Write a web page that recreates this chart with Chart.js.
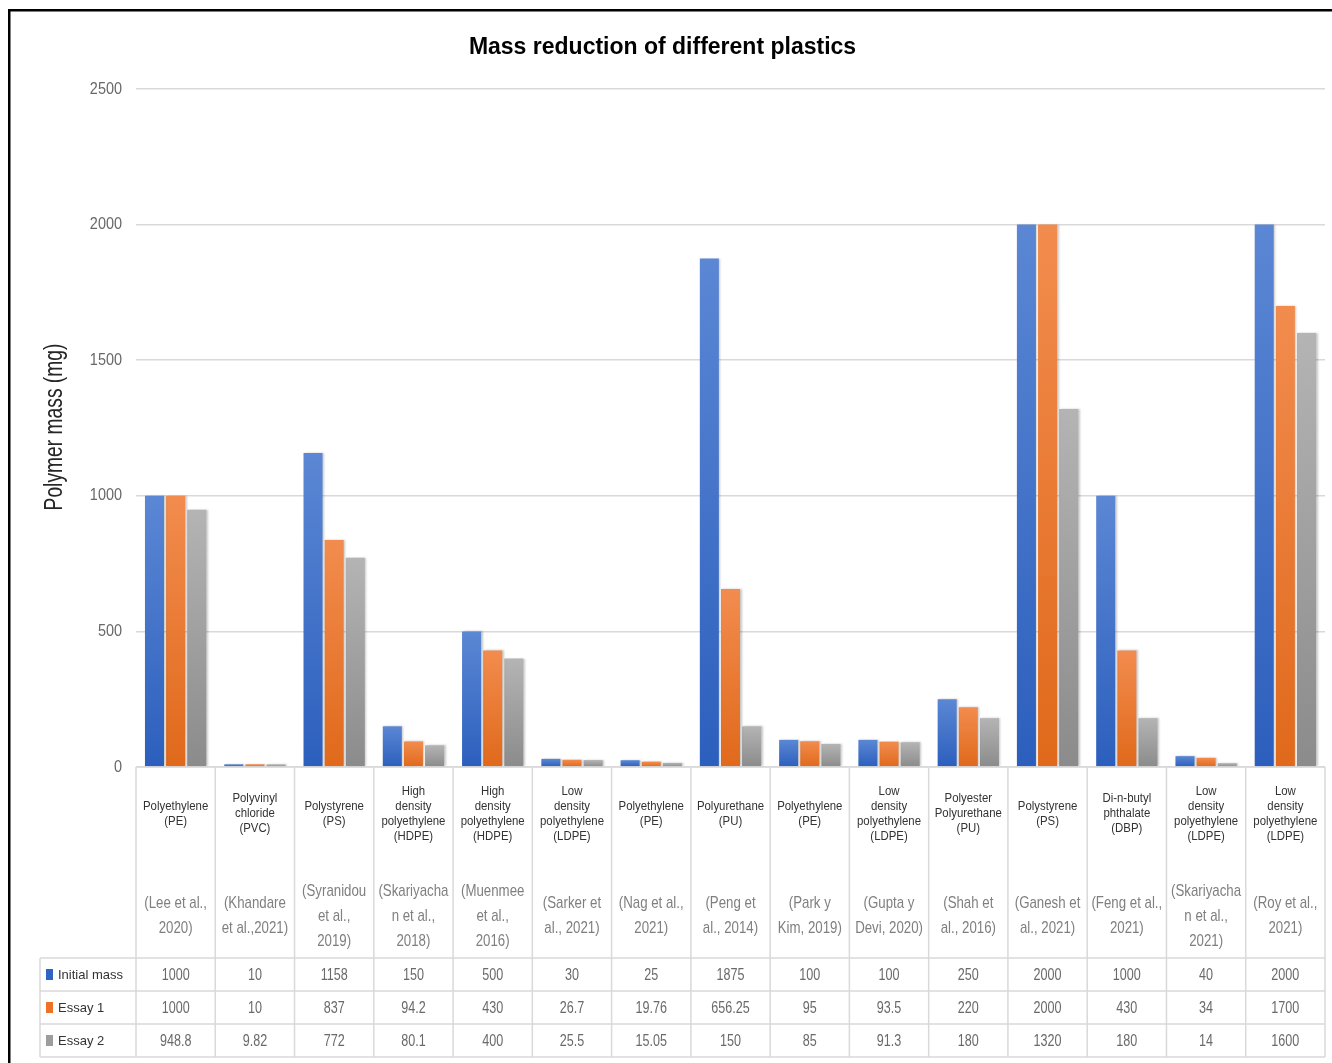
<!DOCTYPE html>
<html>
<head>
<meta charset="utf-8">
<title>Mass reduction of different plastics</title>
<script src="https://cdn.jsdelivr.net/npm/chart.js@4/dist/chart.umd.min.js"></script>
<style>
  html, body { margin: 0; padding: 0; background: #ffffff; }
  canvas { display: block; }
</style>
</head>
<body>
<canvas id="chart" width="1332" height="1063"></canvas>
<script>
// Polymer studied in each column (drawn as the first block of the data table)
const polymerNames = [
  ['Polyethylene', '(PE)'],
  ['Polyvinyl', 'chloride', '(PVC)'],
  ['Polystyrene', '(PS)'],
  ['High', 'density', 'polyethylene', '(HDPE)'],
  ['High', 'density', 'polyethylene', '(HDPE)'],
  ['Low', 'density', 'polyethylene', '(LDPE)'],
  ['Polyethylene', '(PE)'],
  ['Polyurethane', '(PU)'],
  ['Polyethylene', '(PE)'],
  ['Low', 'density', 'polyethylene', '(LDPE)'],
  ['Polyester', 'Polyurethane', '(PU)'],
  ['Polystyrene', '(PS)'],
  ['Di-n-butyl', 'phthalate', '(DBP)'],
  ['Low', 'density', 'polyethylene', '(LDPE)'],
  ['Low', 'density', 'polyethylene', '(LDPE)']
];

// Source of each measurement
const citations = [
  ['(Lee et al.,', '2020)'],
  ['(Khandare', 'et al.,2021)'],
  ['(Syranidou', 'et al.,', '2019)'],
  ['(Skariyacha', 'n et al.,', '2018)'],
  ['(Muenmee', 'et al.,', '2016)'],
  ['(Sarker et', 'al., 2021)'],
  ['(Nag et al.,', '2021)'],
  ['(Peng et', 'al., 2014)'],
  ['(Park y', 'Kim, 2019)'],
  ['(Gupta y', 'Devi, 2020)'],
  ['(Shah et', 'al., 2016)'],
  ['(Ganesh et', 'al., 2021)'],
  ['(Feng et al.,', '2021)'],
  ['(Skariyacha', 'n et al.,', '2021)'],
  ['(Roy et al.,', '2021)']
];

const categories = citations.map(c => c.join(' '));

// Polymer mass (mg)
const initialMass = [1000, 10, 1158, 150, 500, 30, 25, 1875, 100, 100, 250, 2000, 1000, 40, 2000];
const essay1      = [1000, 10, 837, 94.2, 430, 26.7, 19.76, 656.25, 95, 93.5, 220, 2000, 430, 34, 1700];
const essay2      = [948.8, 9.82, 772, 80.1, 400, 25.5, 15.05, 150, 85, 91.3, 180, 1320, 180, 14, 1600];

const seriesNames = ['Initial mass', 'Essay 1', 'Essay 2'];
const yTicks = [0, 500, 1000, 1500, 2000, 2500];

const SANS = '"Liberation Sans", Arial, "DejaVu Sans", sans-serif';

const palette = [
  { top: '#5b87d4', bottom: '#2c5fbd', key: '#2f63c4' },
  { top: '#f28c4e', bottom: '#e0691b', key: '#ed7328' },
  { top: '#b4b4b4', bottom: '#8b8b8b', key: '#9d9d9d' }
];

// Vertical light-to-dark gradient spanning each individual bar
function barFill(p) {
  return (ctx) => {
    const chart = ctx.chart;
    if (!chart.chartArea || ctx.type !== 'data' || !chart.scales.y) return p.bottom;
    const y = chart.scales.y;
    const v = ctx.parsed ? ctx.parsed.y : ctx.raw;
    const y0 = y.getPixelForValue(v);
    const y1 = y.getPixelForValue(0);
    if (!isFinite(y0) || y1 - y0 < 1) return p.bottom;
    const g = chart.ctx.createLinearGradient(0, y0, 0, y1);
    g.addColorStop(0, p.top);
    g.addColorStop(1, p.bottom);
    return g;
  };
}

const seriesValues = [initialMass, essay1, essay2];

// Table geometry below the plot
const TABLE = {
  legendLeft: 40,
  rowTop: 958,
  rowHeight: 33,
  nameCenter: 814,
  nameLine: 15,
  citeCenter: 916,
  citeLine: 25,
  lineColor: '#d9d9d9'
};

// Draw text squeezed horizontally (narrow face)
function narrowText(c, text, x, y, sx, align) {
  c.save();
  c.translate(x, y);
  c.scale(sx, 1);
  c.textAlign = align;
  c.fillText(text, 0, 0);
  c.restore();
}

// Subtle drop shadow behind the bars
const barShadow = {
  id: 'barShadow',
  beforeDatasetsDraw(chart) {
    const c = chart.ctx;
    c.save();
    c.shadowColor = 'rgba(0,0,0,0.22)';
    c.shadowBlur = 2;
    c.shadowOffsetX = 1.5;
    c.shadowOffsetY = 0;
  },
  afterDatasetsDraw(chart) {
    chart.ctx.restore();
  }
};

const frameAndTable = {
  id: 'frameAndTable',
  beforeDraw(chart) {
    const c = chart.ctx;
    c.save();
    c.fillStyle = '#ffffff';
    c.fillRect(0, 0, chart.width, chart.height);
    c.restore();
  },
  afterDraw(chart) {
    const c = chart.ctx;
    const x = chart.scales.x;
    const y = chart.scales.y;
    const area = chart.chartArea;
    const n = categories.length;
    const w = (x.right - x.left) / n;
    const top = area.bottom;
    const bottom = TABLE.rowTop + TABLE.rowHeight * 3;

    c.save();
    // y tick labels, placed by the value scale
    c.font = '17px ' + SANS;
    c.fillStyle = '#686868';
    c.textBaseline = 'middle';
    y.ticks.forEach(t => {
      narrowText(c, String(t.value), area.left - 14, y.getPixelForValue(t.value), 0.85, 'right');
    });

    // grid of the data table
    c.strokeStyle = TABLE.lineColor;
    c.lineWidth = 1.5;
    c.beginPath();
    c.moveTo(x.left, top); c.lineTo(x.right, top);
    for (let r = 0; r <= 3; r++) {
      const yy = TABLE.rowTop + r * TABLE.rowHeight;
      c.moveTo(TABLE.legendLeft, yy); c.lineTo(x.right, yy);
    }
    for (let i = 0; i <= n; i++) {
      const xx = x.left + i * w;
      c.moveTo(xx, top); c.lineTo(xx, bottom);
    }
    c.moveTo(TABLE.legendLeft, TABLE.rowTop); c.lineTo(TABLE.legendLeft, bottom);
    c.stroke();

    c.textAlign = 'center';
    c.textBaseline = 'middle';
    for (let i = 0; i < n; i++) {
      const cx = x.getPixelForValue(i);
      // polymer name
      c.font = '12px ' + SANS;
      c.fillStyle = '#333333';
      const names = polymerNames[i];
      let y0 = TABLE.nameCenter - (names.length - 1) * TABLE.nameLine / 2;
      names.forEach((t, k) => narrowText(c, t, cx, y0 + k * TABLE.nameLine, 0.95, 'center'));
      // citation
      c.font = '17px ' + SANS;
      c.fillStyle = '#7f7f7f';
      const cit = citations[i];
      y0 = TABLE.citeCenter - (cit.length - 1) * TABLE.citeLine / 2;
      cit.forEach((t, k) => narrowText(c, t, cx, y0 + k * TABLE.citeLine, 0.78, 'center'));
      // values
      c.fillStyle = '#6a6a6a';
      seriesValues.forEach((vals, r) => {
        const yy = TABLE.rowTop + r * TABLE.rowHeight + TABLE.rowHeight / 2 + 1;
        narrowText(c, String(vals[i]), cx, yy, 0.74, 'center');
      });
    }

    // legend keys in the first column
    c.font = '13px ' + SANS;
    seriesNames.forEach((name, r) => {
      const yy = TABLE.rowTop + r * TABLE.rowHeight + TABLE.rowHeight / 2;
      c.fillStyle = palette[r].key;
      c.fillRect(46, yy - 5.5, 7, 11);
      c.fillStyle = '#333333';
      narrowText(c, name, 58, yy + 1, 1, 'left');
    });

    // y-axis title
    c.save();
    c.translate(55, 427);
    c.rotate(-Math.PI / 2);
    c.font = '25px ' + SANS;
    c.fillStyle = '#262626';
    c.textBaseline = 'middle';
    narrowText(c, 'Polymer mass (mg)', 0, 0, 0.77, 'center');
    c.restore();

    // outer frame
    c.fillStyle = '#000000';
    c.fillRect(8, 9, chart.width, 2.5);
    c.fillRect(8, 9, 2.5, chart.height);
    c.restore();
  }
};

new Chart(document.getElementById('chart'), {
  type: 'bar',
  data: {
    labels: categories,
    datasets: seriesNames.map((name, i) => ({
      label: name,
      data: seriesValues[i],
      backgroundColor: barFill(palette[i]),
      borderWidth: 0,
      categoryPercentage: 0.8,
      barPercentage: 0.9
    }))
  },
  options: {
    responsive: false,
    animation: false,
    events: [],
    layout: { padding: { top: 0, left: 0, right: 7, bottom: 296 } },
    plugins: {
      legend: { display: false },
      tooltip: { enabled: false },
      title: {
        display: true,
        text: 'Mass reduction of different plastics',
        color: '#000000',
        font: { family: SANS, size: 23, weight: 'bold', lineHeight: 1.2 },
        padding: { top: 34, bottom: 27.4 }
      }
    },
    scales: {
      x: {
        display: false,
        offset: true,
        grid: { display: false }
      },
      y: {
        min: 0,
        max: 2500,
        afterFit(scale) { scale.width = 136; },
        afterBuildTicks(scale) { scale.ticks = yTicks.map(v => ({ value: v })); },
        border: { display: false },
        grid: { color: '#d9d9d9', lineWidth: 1.5, drawTicks: false },
        ticks: { display: false }
      }
    }
  },
  plugins: [barShadow, frameAndTable]
});
</script>
</body>
</html>
